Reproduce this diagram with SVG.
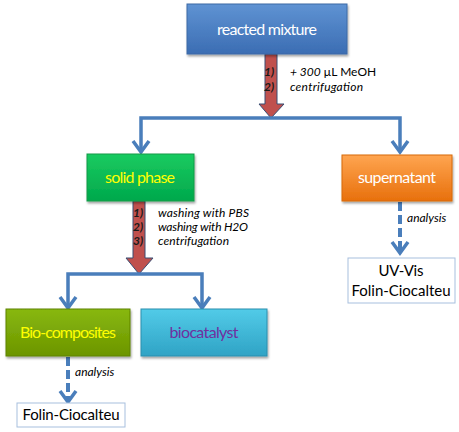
<svg xmlns="http://www.w3.org/2000/svg" width="459" height="432" viewBox="0 0 459 432">
<style>
.box{stroke-width:1}
.t{font-family:Lato,"Liberation Sans",sans-serif;font-size:16px;text-anchor:middle}
.w{font-family:Lato,"Liberation Sans",sans-serif;font-size:15px;text-anchor:middle;fill:#000}
.lab{font-family:Lato,"Liberation Sans",sans-serif;font-size:12px;font-style:italic;fill:#000}
.num{font-family:Lato,"Liberation Sans",sans-serif;font-size:12px;font-style:italic;font-weight:bold;fill:#1a1a1a}
.con{fill:none;stroke:#4A7EBB;stroke-width:3.5;stroke-linejoin:miter}
.dash{fill:none;stroke:#4A7EBB;stroke-width:4;stroke-dasharray:9 4}
.red{fill:#C0504D;stroke:#384D73;stroke-width:1}
</style>
<defs>
<linearGradient id="gBlue" x1="0" y1="0" x2="0" y2="1"><stop offset="0" stop-color="#5F93D3"/><stop offset="1" stop-color="#3B6DB3"/></linearGradient>
<linearGradient id="gGreen" x1="0" y1="0" x2="0" y2="1"><stop offset="0" stop-color="#1ACB60"/><stop offset="1" stop-color="#00A84C"/></linearGradient>
<linearGradient id="gOrange" x1="0" y1="0" x2="0" y2="1"><stop offset="0" stop-color="#FFA550"/><stop offset="1" stop-color="#E8700C"/></linearGradient>
<linearGradient id="gOlive" x1="0" y1="0" x2="0" y2="1"><stop offset="0" stop-color="#88B80E"/><stop offset="1" stop-color="#6C9500"/></linearGradient>
<linearGradient id="gCyan" x1="0" y1="0" x2="0" y2="1"><stop offset="0" stop-color="#52CBE8"/><stop offset="1" stop-color="#2FA3C5"/></linearGradient>
<filter id="sh" x="-10%" y="-10%" width="120%" height="130%"><feDropShadow dx="1" dy="2" stdDeviation="1.2" flood-color="#000" flood-opacity="0.35"/></filter>
</defs>

<g id="connectors">
<polygon class="red" points="265,54 277,54 277,104 284,104 271,118 259,104 265,104"/>
<polygon class="red" points="133,201 145,201 145,258 153,258 139,274 126,258 133,258"/>
<path class="con" d="M141 152 V118 H400 V152"/>
<path class="con" d="M133 141 L141 152 L149 141"/>
<path class="con" d="M392 141 L400 152 L408 141"/>
<path class="con" d="M68 308 V274 H202 V308"/>
<path class="con" d="M60 297 L68 308 L76 297"/>
<path class="con" d="M194 297 L202 308 L210 297"/>
<path class="dash" d="M400 202 V251"/>
<path class="con" d="M392 242 L400 253 L408 242"/>
<path class="dash" d="M68 357 V400"/>
<path class="con" d="M60 391 L68 402 L76 391"/>
<text class="num" x="264" y="76">1)</text>
<text class="num" x="264" y="91">2)</text>
<text class="lab" x="290" y="76">+ 300 <tspan font-style="normal">µL MeOH</tspan></text>
<text class="lab" x="290" y="91" textLength="73">centrifugation</text>
<text class="num" x="133" y="217">1)</text>
<text class="num" x="133" y="231">2)</text>
<text class="num" x="133" y="245">3)</text>
<text class="lab" x="158" y="217" textLength="91">washing with PBS</text>
<text class="lab" x="158" y="231" textLength="90">washing with H2O</text>
<text class="lab" x="158" y="245" textLength="71">centrifugation</text>
<text class="lab" x="407" y="222">analysis</text>
<text class="lab" x="75" y="376">analysis</text>
</g>

<g id="reacted-mixture">
<rect class="box" x="187" y="4" width="160" height="50" fill="url(#gBlue)" stroke="#3C6AA6" filter="url(#sh)"/>
<text class="t" x="267" y="35" fill="#fff" textLength="100">reacted mixture</text>
</g>
<g id="solid-phase">
<rect class="box" x="87" y="154" width="107" height="47" fill="url(#gGreen)" stroke="#0E9A48" filter="url(#sh)"/>
<text class="t" x="140" y="183" fill="#FFFF00" textLength="70">solid phase</text>
</g>
<g id="supernatant">
<rect class="box" x="342" y="155" width="110" height="46" fill="url(#gOrange)" stroke="#D8690C" filter="url(#sh)"/>
<text class="t" x="397" y="183" fill="#fff" textLength="78">supernatant</text>
</g>
<g id="bio-composites">
<rect class="box" x="6" y="309" width="124" height="47" fill="url(#gOlive)" stroke="#5F8300" filter="url(#sh)"/>
<text class="t" x="68" y="338" fill="#FFFF00" textLength="96">Bio-composites</text>
</g>
<g id="biocatalyst">
<rect class="box" x="141" y="309" width="126" height="47" fill="url(#gCyan)" stroke="#2B8FAE" filter="url(#sh)"/>
<text class="t" x="204" y="338" fill="#7030A0" textLength="69">biocatalyst</text>
</g>
<g id="uv-vis">
<rect x="348" y="258" width="107" height="45" fill="#fff" stroke="#A7BFDE" stroke-width="1"/>
<text class="w" x="401" y="276" textLength="45">UV-Vis</text>
<text class="w" x="401" y="296" textLength="99">Folin-Ciocalteu</text>
</g>
<g id="folin">
<rect x="17" y="403" width="108" height="24" fill="#fff" stroke="#A7BFDE" stroke-width="1"/>
<text class="w" x="71" y="420" textLength="97">Folin-Ciocalteu</text>
</g>
</svg>
